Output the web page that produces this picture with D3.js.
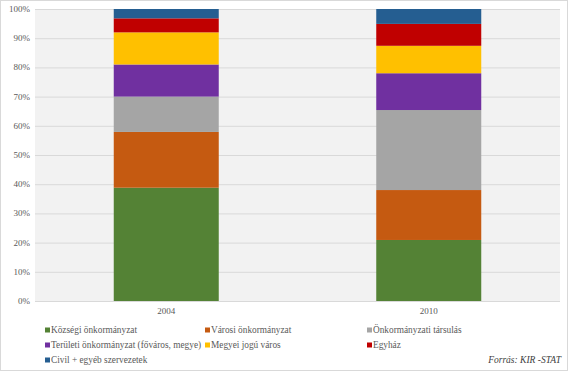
<!DOCTYPE html>
<html><head><meta charset="utf-8">
<script src="https://cdn.jsdelivr.net/npm/d3@7"></script>
<style>
html,body{margin:0;padding:0;background:#fff;}
svg{display:block;font-family:"Liberation Serif","Times New Roman",serif;}
</style></head>
<body>
<svg id="c" width="568" height="371"></svg>
<script>
const years = ["2004", "2010"];
const seriesNames = ["Községi önkormányzat","Városi önkormányzat","Önkormányzati társulás","Területi önkormányzat (főváros, megye)","Megyei jogú város","Egyház","Civil + egyéb szervezetek"];
const seriesColors = ["#548235","#c55a11","#a5a5a5","#7030a0","#ffc000","#c00000","#255e91"];
const v2004 = [38.8, 19.1, 12.1, 11.0, 11.0, 4.8, 3.2];
const v2010 = [20.9, 17.1, 27.4, 12.6, 9.4, 7.5, 5.1];
const yTicks = [0,10,20,30,40,50,60,70,80,90,100];
const source = "Forrás: KIR -STAT";

const svg = d3.select("#c");
svg.append("rect").attr("x",0.5).attr("y",0.5).attr("width",567).attr("height",370)
  .attr("fill","#fff").attr("stroke","#d9d9d9");

const L=35,R=560,T=9,B=301;
svg.append("rect").attr("x",L).attr("y",T).attr("width",R-L).attr("height",B-T).attr("fill","#f2f2f2");

const x = d3.scaleBand().domain(years).range([L,R]).paddingInner(0.6).paddingOuter(0.3);
const y = d3.scaleLinear().domain([0,100]).range([B,T]);

svg.append("g").selectAll("line").data(yTicks).join("line")
  .attr("x1",L).attr("x2",R).attr("y1",d=>y(d)+0.5).attr("y2",d=>y(d)+0.5)
  .attr("stroke","#d9d9d9").attr("stroke-width",1);

svg.append("g").selectAll("text").data(yTicks).join("text")
  .attr("x",30).attr("y",d=>y(d)+3).attr("text-anchor","end")
  .attr("font-size",9).attr("fill","#595959").text(d=>d+"%");

const data = years.map((yr,i)=>{ const o={year:yr}; const vals=i===0?v2004:v2010; seriesNames.forEach((s,j)=>o[s]=vals[j]); return o;});
const stack = d3.stack().keys(seriesNames)(data);
svg.append("g").selectAll("g").data(stack).join("g")
  .attr("fill",(d,i)=>seriesColors[i])
  .selectAll("rect").data(d=>d).join("rect")
  .attr("x",d=>x(d.data.year)).attr("width",x.bandwidth())
  .attr("y",d=>y(d[1])).attr("height",d=>y(d[0])-y(d[1]));

svg.append("g").selectAll("text").data(years).join("text")
  .attr("x",d=>x(d)+x.bandwidth()/2).attr("y",314).attr("text-anchor","middle")
  .attr("font-size",9).attr("fill","#595959").text(d=>d);

const cols=[45,205,367], rows=[333,348,363];
const lg = svg.append("g").selectAll("g").data(seriesNames).join("g")
  .attr("transform",(d,i)=>`translate(${cols[i%3]},${rows[Math.floor(i/3)]})`);
lg.append("rect").attr("x",0).attr("y",-5.5).attr("width",5).attr("height",5).attr("fill",(d,i)=>seriesColors[i]);
lg.append("text").attr("x",6).attr("y",0).attr("font-size",9.3).attr("fill","#595959").text(d=>d);

svg.append("text").attr("x",561).attr("y",363).attr("text-anchor","end")
  .attr("font-size",9.5).attr("font-style","italic").attr("fill","#404040").text(source);
</script>
</body></html>
